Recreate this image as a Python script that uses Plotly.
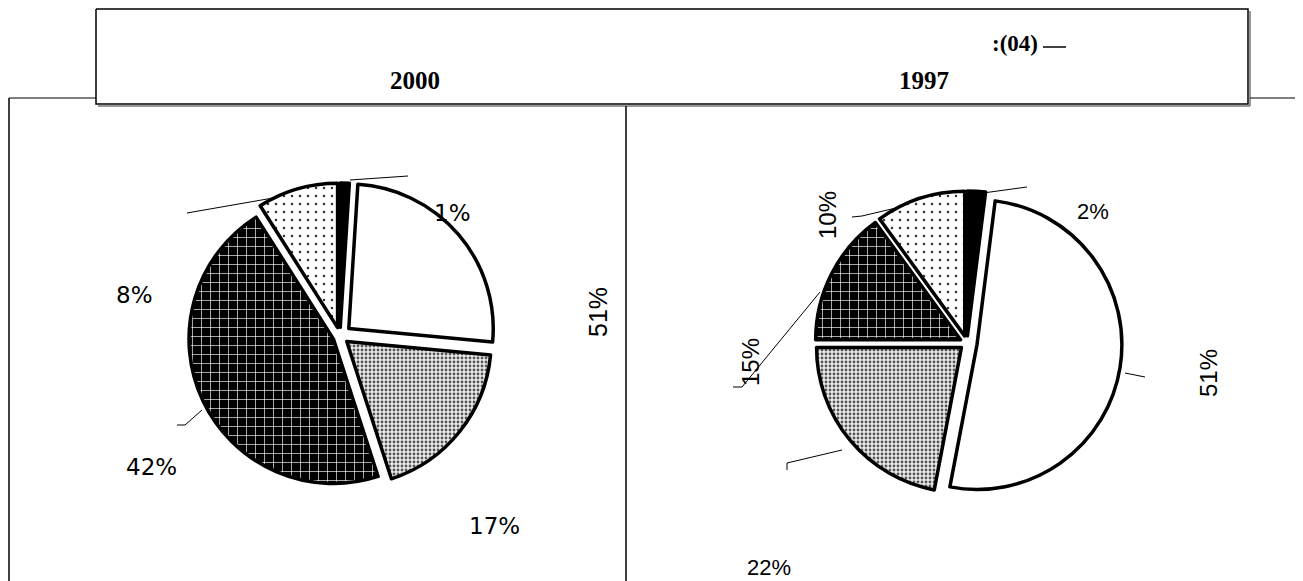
import plotly.graph_objects as go

W, H = 1303, 581
OFF = 8  # default page body margin
FW, FH = W - OFF, H - OFF

# ---- data ----
slice_names = ["black", "white", "grey dots", "brick", "light dots"]
values_2000 = [1, 25.5, 18.5, 46, 9]
values_1997 = [2, 51, 22, 15, 10]
labels_2000 = ["1%", "51%", "17%", "42%", "8%"]
labels_1997 = ["2%", "51%", "22%", "15%", "10%"]
titles = ["2000", "1997", ":(04)"]

def px(x):
    return (x - OFF) / FW

def py(y):
    return 1 - (y - OFF) / FH

colors = ["black", "white", "#dcdcdc", "black", "white"]
pattern = dict(
    shape=["", "", ".", "+", "."],
    fgcolor=["black", "black", "#555555", "white", "#333333"],
    bgcolor=["black", "white", "#ececec", "black", "white"],
    size=[6, 6, 4, 9, 8],
    solidity=[0.3, 0.3, 0.4, 0.14, 0.08],
    fillmode="replace",
)

def dom(cx, cy, half):
    return dict(x=[px(cx - half), px(cx + half)], y=[py(cy + half), py(cy - half)])

fig = go.Figure()
fig.add_trace(go.Pie(
    labels=slice_names, values=values_2000, sort=False, direction="clockwise",
    rotation=0, textinfo="none", hoverinfo="label+value",
    pull=[0.06, 0.08, 0.06, 0.05, 0.06],
    marker=dict(colors=colors, line=dict(color="black", width=3.5), pattern=pattern),
    domain=dom(340, 336, 156), showlegend=False,
))
fig.add_trace(go.Pie(
    labels=slice_names, values=values_1997, sort=False, direction="clockwise",
    rotation=0, textinfo="none", hoverinfo="label+value",
    pull=[0.05, 0.07, 0.05, 0.05, 0.05],
    marker=dict(colors=colors, line=dict(color="black", width=3.5), pattern=pattern),
    domain=dom(967, 343, 155), showlegend=False,
))

shapes = []
def line(x0, y0, x1, y1, w=1, c="black"):
    shapes.append(dict(type="line", xref="paper", yref="paper",
                       x0=px(x0), y0=py(y0), x1=px(x1), y1=py(y1),
                       line=dict(color=c, width=w)))

def poly(pts, w=1, c="black"):
    d = "M " + " L ".join(f"{px(x)},{py(y)}" for x, y in pts)
    shapes.append(dict(type="path", xref="paper", yref="paper", path=d,
                       line=dict(color=c, width=w)))

# top box with shadow
poly([(96, 9), (1248, 9), (1248, 104), (96, 104), (96, 9)], w=1.5)
line(98, 106, 1250, 106, w=1.5, c="#777777")
line(1250, 11, 1250, 106, w=1.5, c="#777777")
# outer frame
line(9, 98, 96, 98, w=1)
line(1250, 98, 1296, 98, w=1)
line(9, 98, 9, 581, w=1.5)
line(1296, 98, 1296, 581, w=1.5)
line(626, 106, 626, 581, w=1.5)
# underline in heading
line(1043, 47, 1066, 47, w=1.5)

# leader lines left
poly([(187, 213), (273, 198)])
poly([(350, 180), (408, 176)])
poly([(177, 425), (185, 425), (202, 410)])
# leader lines right
poly([(852, 217), (862, 216), (900, 207)])
poly([(983, 193), (1027, 187)])
poly([(733, 387), (742, 387), (820, 292)])
poly([(787, 470), (787, 463), (842, 450)])
poly([(1125, 373), (1145, 377)])

annotations = []
def txt(x, y, s, size=22, angle=0, family="DejaVu Sans", weight=400):
    annotations.append(dict(x=px(x), y=py(y), xref="paper", yref="paper",
                            text=s, showarrow=False, textangle=angle,
                            xanchor="center", yanchor="middle",
                            font=dict(family=family, size=size, color="black",
                                      weight=weight)))

# headings
txt(415, 80, titles[0], size=25, family="Liberation Serif", weight=700)
txt(924, 80, titles[1], size=25, family="Liberation Serif", weight=700)
txt(1015, 44, titles[2], size=23, family="Liberation Serif", weight=700)

# left labels
txt(452, 213, labels_2000[0], size=23)
txt(598, 312, labels_2000[1], size=25, angle=-90, family="Liberation Sans")
txt(494, 526, labels_2000[2], size=23)
txt(151, 467, labels_2000[3], size=23)
txt(134, 295, labels_2000[4], size=23)
# right labels
txt(1093, 212, labels_1997[0], size=22, family="Liberation Sans")
txt(1208, 373, labels_1997[1], size=24, angle=-90, family="Liberation Sans")
txt(769, 567, labels_1997[2], size=22, family="Liberation Sans")
txt(750, 362, labels_1997[3], size=24, angle=-90, family="Liberation Sans")
txt(827, 215, labels_1997[4], size=24, angle=-90, family="Liberation Sans")

fig.update_layout(width=FW, height=FH, margin=dict(l=0, r=0, t=0, b=0),
                  paper_bgcolor="white", plot_bgcolor="white",
                  shapes=shapes, annotations=annotations)
fig.write_html("out.html")
